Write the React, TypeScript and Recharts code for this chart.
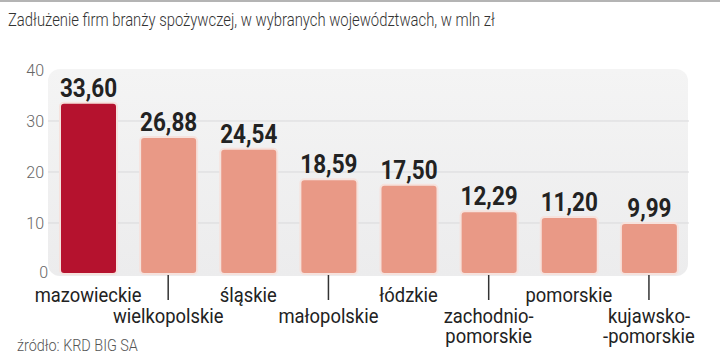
import { Bar, BarChart, CartesianGrid, Cell, LabelList, XAxis, YAxis } from 'recharts';

const categories = [
  'mazowieckie',
  'wielkopolskie',
  'śląskie',
  'małopolskie',
  'łódzkie',
  'zachodnio-\npomorskie',
  'pomorskie',
  'kujawsko-\n-pomorskie',
];
const debtValues = [33.6, 26.88, 24.54, 18.59, 17.5, 12.29, 11.2, 9.99];
const yTicks = [0, 10, 20, 30, 40];
const gridValues = [10, 20, 30];

const title = 'Zadłużenie firm branży spożywczej, w wybranych województwach, w mln zł';
const source = 'źródło: KRD BIG SA';

const font = "Roboto, 'DejaVu Sans Condensed', sans-serif";
const HIGHLIGHT = '#b5122e';
const BASE = '#e99986';

const data = categories.map((name, i) => ({ name, value: debtValues[i] }));

function CategoryTick(props: any) {
  const { x, y, payload } = props;
  const index = props.index ?? categories.indexOf(payload.value);
  const lines = String(payload.value).split('\n');
  const odd = index % 2 === 1;
  const base = odd ? y + 49 : y + 28;
  return (
    <g>
      {odd && <line x1={x} x2={x} y1={y + 1} y2={y + 26} stroke="#333" strokeWidth={1.5} />}
      {lines.map((line, i) => (
        <text
          key={i}
          transform={`translate(${x},${base + i * 19.5}) scale(0.92,1)`}
          textAnchor="middle"
          fill="#222"
          style={{ fontFamily: font, fontSize: 20 }}
        >
          {line}
        </text>
      ))}
    </g>
  );
}

function ValueTick(props: any) {
  const { x, y, payload } = props;
  const zero = payload.value === 0;
  return (
    <text
      x={zero ? x + 4 : x}
      y={zero ? y - 2 : y}
      dy={6}
      textAnchor="end"
      fill="#666"
      style={{ fontFamily: font, fontSize: 16, fontWeight: 300 }}
    >
      {payload.value}
    </text>
  );
}

function ValueLabel(props: any) {
  const { x, y, width, value } = props;
  const cx = Number(x) + Number(width) / 2;
  return (
    <text
      transform={`translate(${cx},${Number(y) - 6}) scale(0.9,1)`}
      textAnchor="middle"
      fill="#222"
      style={{ fontFamily: font, fontSize: 25, fontWeight: 700 }}
    >
      {Number(value).toFixed(2).replace('.', ',')}
    </text>
  );
}

export default function App() {
  return (
    <div
      style={{
        position: 'absolute',
        left: 0,
        top: 0,
        width: 720,
        height: 360,
        background: '#fff',
        overflow: 'hidden',
        fontFamily: font,
      }}
    >
      <div style={{ position: 'absolute', left: 0, top: 0, width: 720, height: 2, background: '#b4b4b4' }} />
      <div
        style={{
          position: 'absolute',
          left: 8,
          top: 9,
          fontSize: 19,
          fontWeight: 300,
          lineHeight: '22px',
          color: '#333',
          whiteSpace: 'nowrap',
          transform: 'scaleX(0.78)',
          transformOrigin: 'left center',
        }}
      >
        {title}
      </div>
      {/* rounded grey panel behind the plot */}
      <div
        style={{
          position: 'absolute',
          left: 48,
          top: 69,
          width: 640,
          height: 207,
          borderRadius: 12,
          background: 'linear-gradient(#f4f4f4, #ececed)',
        }}
      />
      <div style={{ position: 'absolute', left: 0, top: 0 }}>
        <BarChart
          width={720}
          height={360}
          data={data}
          margin={{ top: 70, right: 31, left: 0, bottom: 0 }}
        >
          <CartesianGrid horizontal vertical={false} horizontalValues={gridValues} stroke="#d9d9db" />
          <XAxis
            dataKey="name"
            axisLine={false}
            tickLine={false}
            tickSize={0}
            tickMargin={0}
            height={86}
            interval={0}
            tick={<CategoryTick />}
          />
          <YAxis
            domain={[0, 40]}
            ticks={yTicks}
            axisLine={false}
            tickLine={false}
            tickSize={0}
            tickMargin={4}
            width={48}
            tick={<ValueTick />}
          />
          <Bar
            dataKey="value"
            barSize={57}
            radius={4}
            stroke="#f6e2dd"
            strokeWidth={2}
            isAnimationActive={false}
          >
            {data.map((d, i) => (
              <Cell key={d.name} fill={i === 0 ? HIGHLIGHT : BASE} />
            ))}
            <LabelList dataKey="value" content={<ValueLabel />} />
          </Bar>
        </BarChart>
      </div>
      <div
        style={{
          position: 'absolute',
          left: 17,
          top: 337,
          fontSize: 16,
          fontWeight: 300,
          lineHeight: '18px',
          color: '#555',
          whiteSpace: 'nowrap',
          transform: 'scaleX(0.9)',
          transformOrigin: 'left center',
        }}
      >
        {source}
      </div>
    </div>
  );
}
